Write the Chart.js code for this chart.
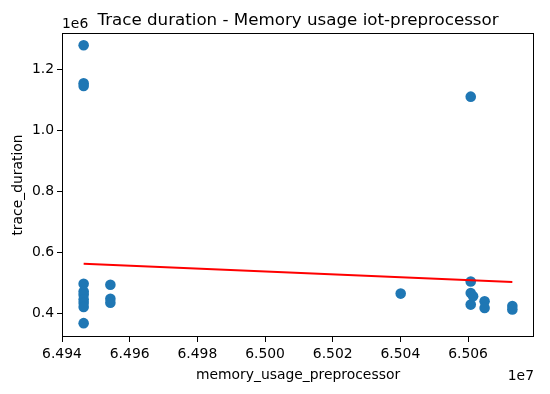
<!DOCTYPE html>
<html><head><meta charset="utf-8">
<script src="https://cdn.jsdelivr.net/npm/chart.js@4.4.0/dist/chart.umd.min.js"></script>
<style>html,body{margin:0;padding:0;background:#fff}#wrap{width:550px;height:394px}</style>
</head><body><div id="wrap"><canvas id="c" width="550" height="394"></canvas></div>
<script>
const chartTitle = "Trace duration - Memory usage iot-preprocessor";
const xLabel = "memory_usage_preprocessor";
const yLabel = "trace_duration";
const memoryUsage = [
  64946400, 64946400, 64946400, 64946400, 64946400, 64946400, 64946400, 64946400, 64946400, 64946400,
  64954300, 64954300, 64954300,
  65040100,
  65060800, 65060800, 65060800, 65060800,
  65061500,
  65064900, 65064900,
  65073100, 65073100
];
const traceDuration = [
  1280000, 1155000, 1146000, 496000, 471000, 460000, 445000, 433000, 420000, 367000,
  493000, 447000, 434000,
  464000,
  1111000, 504000, 466000, 428000,
  455000,
  439000, 417000,
  423000, 412000
];
const trendX = [64946400, 65073100];
const trendY = [562300, 502300];
const xTicks = [64940000, 64960000, 64980000, 65000000, 65020000, 65040000, 65060000];
const yTicks = [400000, 600000, 800000, 1000000, 1200000];
const xRange = [64940000, 65079500];
const yRange = [321500, 1320000];

const FONT = "'DejaVu Sans', sans-serif";
const points = memoryUsage.map((x, i) => ({x: x, y: traceDuration[i]}));
const trend = trendX.map((x, i) => ({x: x, y: trendY[i]}));

const extras = {
  id: 'extras',
  afterDraw(chart) {
    const {ctx, chartArea: a} = chart;
    ctx.save();
    ctx.strokeStyle = '#000';
    ctx.lineWidth = 1;
    ctx.strokeRect(Math.round(a.left) + 0.5, Math.round(a.top) + 0.5,
                   Math.round(a.right - a.left) - 1, Math.round(a.bottom - a.top) - 1);
    ctx.fillStyle = '#000';
    ctx.textBaseline = 'alphabetic';
    ctx.font = "16.7px " + FONT;
    ctx.textAlign = 'center';
    ctx.fillText(chartTitle, (a.left + a.right) / 2, 25);
    ctx.font = "13.9px " + FONT;
    ctx.textAlign = 'left';
    ctx.fillText('1e6', a.left, 28);
    ctx.textAlign = 'right';
    ctx.fillText('1e7', a.right, 380);
    ctx.restore();
  }
};

new Chart(document.getElementById('c'), {
  type: 'scatter',
  data: {
    datasets: [
      {type: 'line', data: trend, borderColor: '#ff0000', borderWidth: 2, pointRadius: 0, fill: false, order: 0},
      {data: points, backgroundColor: '#1f77b4', borderWidth: 0, pointRadius: 5.3, pointHoverRadius: 5.3, order: 1}
    ]
  },
  options: {
    responsive: false,
    devicePixelRatio: 1,
    animation: false,
    events: [],
    layout: {padding: {top: 33, right: 16, bottom: 10, left: 0}},
    plugins: {legend: {display: false}, tooltip: {enabled: false}, title: {display: false}},
    scales: {
      x: {
        type: 'linear', min: xRange[0], max: xRange[1],
        afterBuildTicks: s => { s.ticks = xTicks.map(v => ({value: v})); },
        afterFit: s => { s.height = 47; },
        ticks: {callback: v => (v / 1e7).toFixed(3), font: {family: FONT, size: 13.9}, color: '#000', padding: 4, maxRotation: 0, autoSkip: false},
        grid: {drawOnChartArea: false, tickLength: 5, color: '#000', tickWidth: 1},
        border: {display: false},
        title: {display: true, text: xLabel, font: {family: FONT, size: 13.9}, color: '#000', padding: 0}
      },
      y: {
        type: 'linear', min: yRange[0], max: yRange[1],
        afterBuildTicks: s => { s.ticks = yTicks.map(v => ({value: v})); },
        afterFit: s => { s.width = 62; },
        ticks: {callback: v => (v / 1e6).toFixed(1), font: {family: FONT, size: 13.9}, color: '#000', padding: 3, autoSkip: false},
        grid: {drawOnChartArea: false, tickLength: 5, color: '#000', tickWidth: 1},
        border: {display: false},
        title: {display: true, text: yLabel, font: {family: FONT, size: 13.9}, color: '#000', padding: {top: 10, bottom: 0}}
      }
    }
  },
  plugins: [extras]
});
</script></body></html>
